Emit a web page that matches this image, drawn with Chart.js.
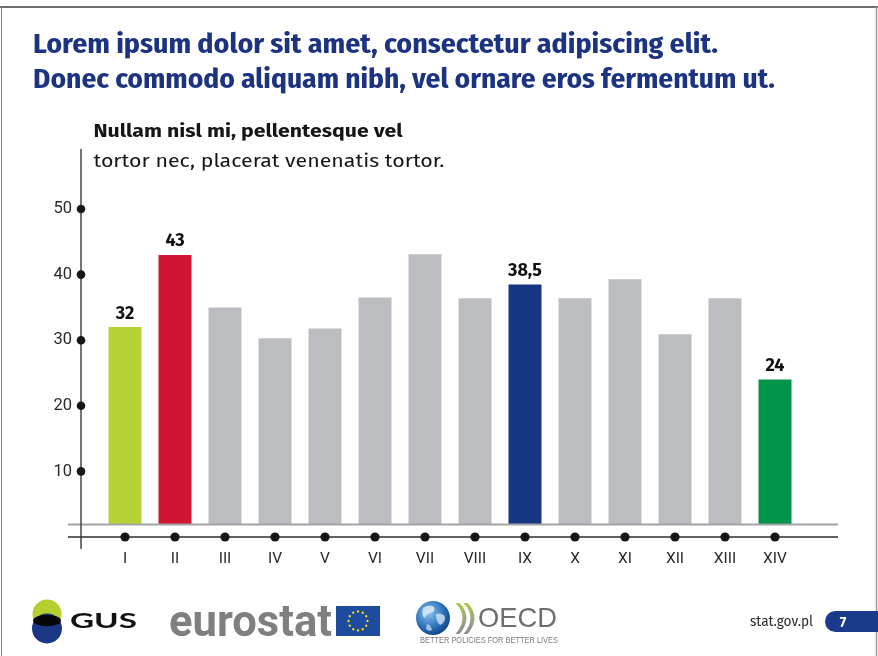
<!DOCTYPE html>
<html lang="pl">
<head>
<meta charset="utf-8">
<title>Lorem ipsum</title>
<script src="https://cdn.jsdelivr.net/npm/chart.js@4.4.1/dist/chart.umd.min.js"></script>
<style>
  html, body { margin: 0; padding: 0; background: #fff; }
  #page { position: relative; width: 878px; height: 656px; overflow: hidden; background: #fff; }
  #chart { position: absolute; left: 0; top: 0; }
  #overlay { position: absolute; left: 0; top: 0; pointer-events: none; }
</style>
</head>
<body>
<div id="page">
  <canvas id="chart" width="878" height="656"></canvas>
  <svg id="overlay" width="878" height="656" viewBox="0 0 878 656" xmlns="http://www.w3.org/2000/svg">
    <defs>
      <radialGradient id="globe" cx="0.38" cy="0.35" r="0.75">
        <stop offset="0" stop-color="#8fc3ea"/>
        <stop offset="0.55" stop-color="#2f77bf"/>
        <stop offset="1" stop-color="#0b3577"/>
      </radialGradient>
      <linearGradient id="chev" x1="0" y1="0" x2="0" y2="1">
        <stop offset="0" stop-color="#a9cd3a"/>
        <stop offset="0.55" stop-color="#9aa58a"/>
        <stop offset="1" stop-color="#8a8a8a"/>
      </linearGradient>
    </defs>

    <!-- page frame -->
    <line x1="0" y1="7" x2="878" y2="7" stroke="#3c3c3c" stroke-width="1.6"/>
    <line x1="1.5" y1="7" x2="1.5" y2="656" stroke="#8a8a8a" stroke-width="1"/>
    <line x1="876.5" y1="7" x2="876.5" y2="656" stroke="#9a9a9a" stroke-width="1.5"/>

    <!-- heading -->
    <g font-family="'Fira Sans Condensed', 'Roboto Condensed', Roboto, 'Noto Sans', sans-serif" font-weight="700" font-size="28" fill="#1b3380">
      <text x="33" y="53" textLength="685" lengthAdjust="spacingAndGlyphs">Lorem ipsum dolor sit amet, consectetur adipiscing elit.</text>
      <text x="33" y="88" textLength="742" lengthAdjust="spacingAndGlyphs">Donec commodo aliquam nibh, vel ornare eros fermentum ut.</text>
    </g>

    <!-- chart caption -->
    <g font-family="'Fira Sans', 'Noto Sans', 'Open Sans', sans-serif" font-size="17.5" fill="#161616">
      <text x="93.5" y="137" font-weight="700" textLength="309" lengthAdjust="spacingAndGlyphs">Nullam nisl mi, pellentesque vel</text>
      <text x="93.5" y="167" textLength="351" lengthAdjust="spacingAndGlyphs">tortor nec, placerat venenatis tortor.</text>
    </g>

    <!-- GUS -->
    <circle cx="47" cy="614" r="14.5" fill="#b4cf30"/>
    <circle cx="47" cy="628.5" r="15" fill="#1c3686"/>
    <ellipse cx="47" cy="620.5" rx="14" ry="5.8" fill="#050505"/>
    <text x="70" y="628" font-family="Lato, 'DejaVu Sans', sans-serif" font-size="21.5" font-weight="700" fill="#111" textLength="67" lengthAdjust="spacingAndGlyphs">GUS</text>

    <!-- eurostat -->
    <text x="169" y="636" font-family="Roboto, 'Liberation Sans', sans-serif" font-size="45" font-weight="700" fill="#7f7f80" textLength="163" lengthAdjust="spacingAndGlyphs">eurostat</text>
    <rect x="336" y="606" width="44" height="30" fill="#1d4c9e"/>
    <g id="euStars" fill="#ffe300"></g>

    <!-- OECD -->
    <circle cx="433" cy="618" r="17" fill="url(#globe)"/>
    <path d="M423 608 q6 -4 11 -1 q2 4 -3 6 q-5 1 -6 5 q-4 -2 -2 -10 z" fill="#d9ecf8" opacity="0.85"/>
    <path d="M436 614 q6 -2 9 3 q0 6 -5 8 q-4 -3 -4 -11 z" fill="#cfe6f6" opacity="0.8"/>
    <path d="M427 624 q4 1 5 6 q-3 2 -6 -1 z" fill="#cfe6f6" opacity="0.7"/>
    <path d="M455.5 603 q7 7 7 15 q0 8 -7 16 l4 0 q7 -8 7 -16 q0 -8 -7 -15 z" fill="url(#chev)"/>
    <path d="M463.5 603 q7 7 7 15 q0 8 -7 16 l4 0 q7 -8 7 -16 q0 -8 -7 -15 z" fill="url(#chev)"/>
    <text x="478" y="627" font-family="'Liberation Sans', Arial, sans-serif" font-size="28" fill="#6e6e70" textLength="79" lengthAdjust="spacingAndGlyphs">OECD</text>
    <text x="420" y="643" font-family="'Liberation Sans', Arial, sans-serif" font-size="8.5" fill="#7a7a7a" textLength="138" lengthAdjust="spacingAndGlyphs">BETTER POLICIES FOR BETTER LIVES</text>

    <!-- site and page number -->
    <text x="813" y="626" text-anchor="end" font-family="'Fira Sans', 'Noto Sans', sans-serif" font-size="14" fill="#2a2a2a" textLength="63" lengthAdjust="spacingAndGlyphs">stat.gov.pl</text>
    <rect x="825" y="611" width="80" height="21" rx="10.5" fill="#1b3a8c"/>
    <text x="843" y="626.5" text-anchor="middle" font-family="'Fira Sans', 'Noto Sans', sans-serif" font-size="14" font-weight="700" fill="#fff">7</text>
  </svg>
</div>

<script>
// Categories and values of the bar chart
const categories = ['I', 'II', 'III', 'IV', 'V', 'VI', 'VII', 'VIII', 'IX', 'X', 'XI', 'XII', 'XIII', 'XIV'];
const values = [32, 43, 35, 30.3, 31.8, 36.5, 43.1, 36.4, 38.5, 36.4, 39.3, 30.9, 36.4, 24];
const barColors = ['#b5d334', '#d01434', '#bcbdc0', '#bcbdc0', '#bcbdc0', '#bcbdc0', '#bcbdc0',
                   '#bcbdc0', '#163582', '#bcbdc0', '#bcbdc0', '#bcbdc0', '#bcbdc0', '#00954b'];
const labelledBars = [true, true, false, false, false, false, false, false, true, false, false, false, false, true];
const yTickValues = [10, 20, 30, 40, 50];

// Bars rise from a raised baseline sitting just above the value axis
const BAR_BASE = 1.9;

// EU flag stars
(function () {
  const g = document.getElementById('euStars');
  const ns = 'http://www.w3.org/2000/svg';
  for (let i = 0; i < 12; i++) {
    const a = i * Math.PI / 6;
    const c = document.createElementNS(ns, 'circle');
    c.setAttribute('cx', (358 + 9.5 * Math.cos(a)).toFixed(2));
    c.setAttribute('cy', (621 + 9.5 * Math.sin(a)).toFixed(2));
    c.setAttribute('r', '1.15');
    g.appendChild(c);
  }
})();

const fmt = v => String(v).replace('.', ',');

// Axis lines with dot markers, the grey baseline and the value labels
const axisDecor = {
  id: 'axisDecor',
  afterDatasetsDraw(chart) {
    const { ctx, chartArea, scales } = chart;
    const x = scales.x, y = scales.y;
    const y0 = y.getPixelForValue(0);
    const yBase = y.getPixelForValue(BAR_BASE);
    const lineLeft = chartArea.left - 32;
    const lineRight = chartArea.right + 38;
    const axisX = chartArea.left - 19;

    ctx.save();
    // grey baseline under the bars
    ctx.strokeStyle = '#a2a3a6';
    ctx.lineWidth = 2;
    ctx.beginPath();
    ctx.moveTo(lineLeft, yBase);
    ctx.lineTo(lineRight, yBase);
    ctx.stroke();

    // horizontal value axis
    ctx.strokeStyle = '#2b2b2b';
    ctx.lineWidth = 1.4;
    ctx.beginPath();
    ctx.moveTo(lineLeft, y0);
    ctx.lineTo(lineRight, y0);
    ctx.stroke();

    // vertical axis
    ctx.strokeStyle = '#3a3a3a';
    ctx.lineWidth = 1.4;
    ctx.beginPath();
    ctx.moveTo(axisX, chartArea.top - 60);
    ctx.lineTo(axisX, y0 + 12);
    ctx.stroke();

    // dots
    ctx.fillStyle = '#161616';
    categories.forEach((c, i) => {
      ctx.beginPath();
      ctx.arc(x.getPixelForValue(i), y0, 4.6, 0, Math.PI * 2);
      ctx.fill();
    });
    yTickValues.forEach(v => {
      ctx.beginPath();
      ctx.arc(axisX, y.getPixelForValue(v), 4.3, 0, Math.PI * 2);
      ctx.fill();
    });

    // value labels above highlighted bars
    ctx.font = "700 18px 'Fira Sans', 'Noto Sans', sans-serif";
    ctx.fillStyle = '#111';
    ctx.textAlign = 'center';
    ctx.textBaseline = 'alphabetic';
    const meta = chart.getDatasetMeta(0);
    values.forEach((v, i) => {
      if (!labelledBars[i]) return;
      const bar = meta.data[i];
      ctx.fillText(fmt(v), bar.x, bar.y - 8.5);
    });
    ctx.restore();
  }
};

new Chart(document.getElementById('chart'), {
  type: 'bar',
  data: {
    labels: categories,
    datasets: [{
      data: values,
      base: BAR_BASE,
      backgroundColor: barColors,
      borderWidth: 0,
      barPercentage: 0.66,
      categoryPercentage: 1.0
    }]
  },
  options: {
    responsive: false,
    animation: false,
    devicePixelRatio: 1,
    layout: { padding: { left: 0, right: 78, top: 209, bottom: 0 } },
    plugins: {
      legend: { display: false },
      title: { display: false },
      tooltip: { enabled: false }
    },
    scales: {
      x: {
        type: 'category',
        offset: true,
        grid: { display: false, drawTicks: false },
        border: { display: false },
        ticks: {
          padding: 13,
          color: '#2a2a2a',
          font: { family: "Roboto, 'Liberation Sans', sans-serif", size: 15.5 },
          maxRotation: 0,
          autoSkip: false
        },
        afterFit(scale) { scale.height = 119; }
      },
      y: {
        min: 0,
        max: 50,
        grid: { display: false, drawTicks: false },
        border: { display: false },
        ticks: {
          stepSize: 10,
          padding: 28,
          color: '#2a2a2a',
          font: { family: "Roboto, 'Liberation Sans', sans-serif", size: 16.5 },
          callback: v => (yTickValues.includes(v) ? String(v) : '')
        },
        afterFit(scale) { scale.width = 100; }
      }
    }
  },
  plugins: [axisDecor]
});
</script>
</body>
</html>
